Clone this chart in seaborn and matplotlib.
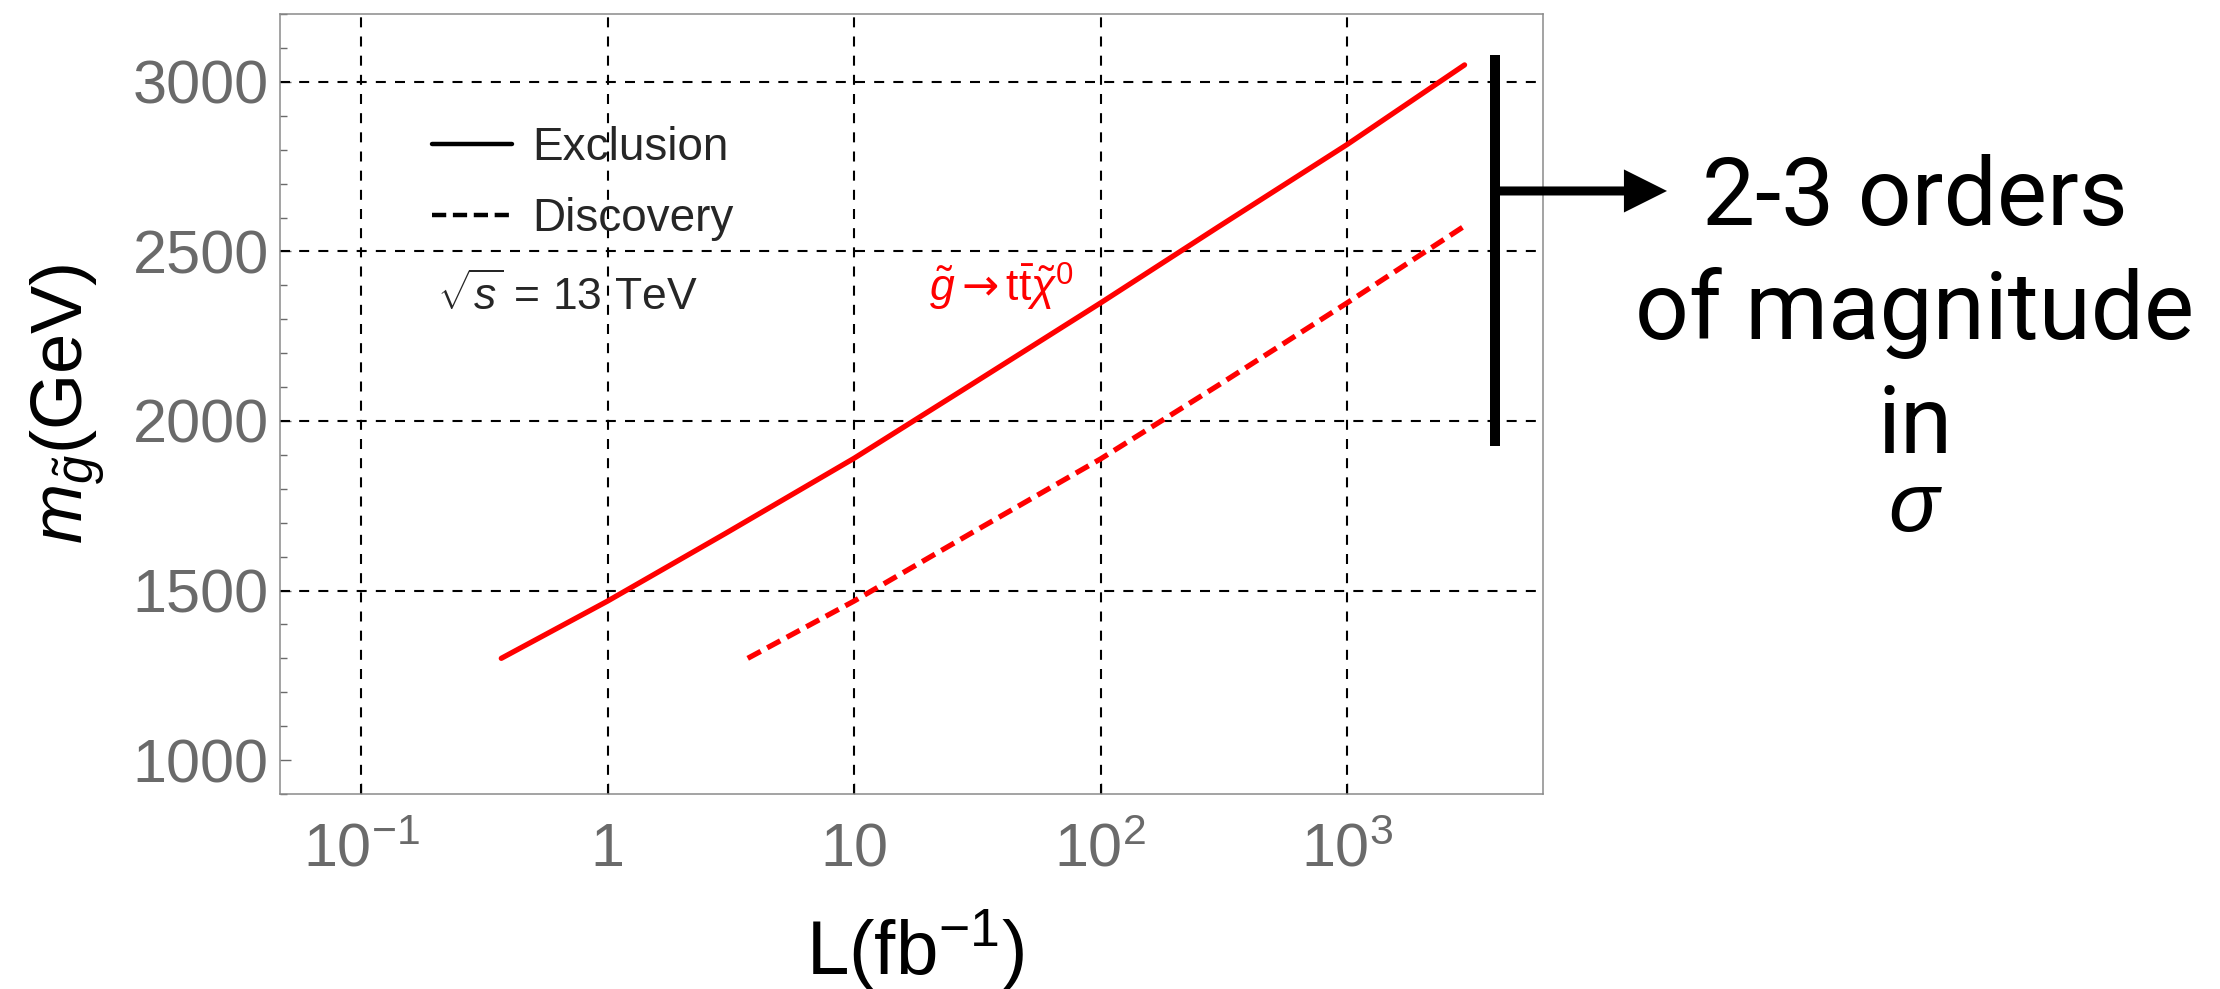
import matplotlib
matplotlib.use("Agg")
import matplotlib.pyplot as plt
import seaborn as sns
from matplotlib.lines import Line2D
from matplotlib.patches import FancyArrowPatch
from matplotlib.ticker import FixedLocator, FixedFormatter, MultipleLocator, NullLocator

# values
lumi_excl = [0.37, 1, 3, 10, 30, 100, 300, 1000, 3000]
mass_excl = [1300, 1469, 1668, 1890, 2108, 2348, 2572, 2815, 3050]
lumi_disc = [3.7, 10, 30, 100, 300, 1000, 3000]
mass_disc = [1300, 1469, 1670, 1888, 2105, 2348, 2575]

x_ticks = [0.1, 1, 10, 100, 1000]
x_tick_labels = [r"$10^{-1}$", "1", "10", r"$10^{2}$", r"$10^{3}$"]
y_ticks = [1000, 1500, 2000, 2500, 3000]
y_grid = [1500, 2000, 2500, 3000]
legend_labels = ["Exclusion", "Discovery"]
note_lines = ["2-3 orders", "of magnitude", "in", r"$\sigma$"]

sns.set_style("white")
plt.rcParams["font.family"] = ["Liberation Sans", "DejaVu Sans"]
plt.rcParams["mathtext.fontset"] = "custom"
plt.rcParams["mathtext.rm"] = "Liberation Sans"
plt.rcParams["mathtext.it"] = "Liberation Sans:italic"
plt.rcParams["mathtext.bf"] = "Liberation Sans:bold"
plt.rcParams["mathtext.sf"] = "DejaVu Sans"

fig = plt.figure(figsize=(22.2, 9.89), dpi=100)
ax = fig.add_axes([0.1261, 0.1972, 0.5689, 0.7886])
ax.set_xscale("log")

# grid (dashed black), no horizontal line at 1000
grid_ls = (0, (4.8, 4.4))
for xv in x_ticks:
    ax.axvline(xv, color="black", lw=1.5, ls=grid_ls, zorder=1)
for yv in y_grid:
    ax.axhline(yv, color="black", lw=1.5, ls=grid_ls, zorder=1)

sns.lineplot(x=lumi_excl, y=mass_excl, ax=ax, color="#ff0000", lw=3.8,
             estimator=None, sort=False, zorder=3)
sns.lineplot(x=lumi_disc, y=mass_disc, ax=ax, color="#ff0000", lw=3.8,
             linestyle=(0, (2.8, 1.4)), estimator=None, sort=False, zorder=3)

ax.set_xlim(10 ** -1.33, 10 ** 3.795)
ax.set_ylim(900, 3200)

ax.xaxis.set_major_locator(FixedLocator(x_ticks))
ax.xaxis.set_major_formatter(FixedFormatter(x_tick_labels))
ax.xaxis.set_minor_locator(NullLocator())
ax.yaxis.set_major_locator(FixedLocator(y_ticks))
ax.yaxis.set_minor_locator(MultipleLocator(100))

ax.tick_params(which="both", direction="in", colors="#6a6a6a",
               top=False, right=False, bottom=True, left=True)
ax.tick_params(which="major", length=8, width=1, labelsize=44)
ax.tick_params(which="minor", length=5, width=1)
ax.tick_params(axis="y", pad=8)
ax.tick_params(axis="x", pad=52)
for lbl in ax.get_xticklabels():
    lbl.set_verticalalignment("baseline")

for sp in ax.spines.values():
    sp.set_color("#8a8a8a")
    sp.set_linewidth(1.1)

ax.set_ylabel(r"$m_{\tilde{g}}$(GeV)", fontsize=52, color="black")
ax.yaxis.set_label_coords(-0.137, 0.5)
ax.set_xlabel(r"L(fb$^{-1}$)", fontsize=55, color="black")
ax.xaxis.set_label_coords(0.503, -0.146)

handles = [Line2D([], [], color="black", lw=3.2),
           Line2D([], [], color="black", lw=3.2, ls=(0, (3.2, 1.5)))]
ax.legend(handles=handles, labels=legend_labels, loc="upper left",
          bbox_to_anchor=(0.1203, 0.857), frameon=False, fontsize=33,
          handlelength=1.75, handletextpad=0.45, labelspacing=0.6,
          borderpad=0, borderaxespad=0)
ax.text(0.124, 0.6205, r"$\sqrt{s}$ = 13 TeV", transform=ax.transAxes,
        fontsize=32, va="baseline", ha="left")
ax.text(0.514, 0.631, r"$\tilde{g}\mathsf{\rightarrow}\mathrm{t}\bar{\mathrm{t}}\tilde{\chi}^{0}$",
        transform=ax.transAxes, fontsize=32, color="#ff0000", va="baseline", ha="left")

# bracket + arrow on the right
fig.add_artist(Line2D([0.6734, 0.6734], [0.549, 0.9444], transform=fig.transFigure,
                      color="black", lw=7.2, solid_capstyle="butt"))
fig.add_artist(FancyArrowPatch((0.6734, 0.8069), (0.7509, 0.8069), transform=fig.transFigure,
                               arrowstyle="simple,head_length=31,head_width=31,tail_width=6.5",
                               mutation_scale=1, color="black", lw=0,
                               shrinkA=0, shrinkB=0))

note_y = [0.7725, 0.6572, 0.5420, 0.463]
note_size = [68, 68, 68, 60]
for txt, yy, fs in zip(note_lines, note_y, note_size):
    fig.text(0.8626, yy, txt, fontsize=fs, family="Roboto", fontweight="normal",
             ha="center", va="baseline", color="black")

fig.savefig("out.png", dpi=100)
